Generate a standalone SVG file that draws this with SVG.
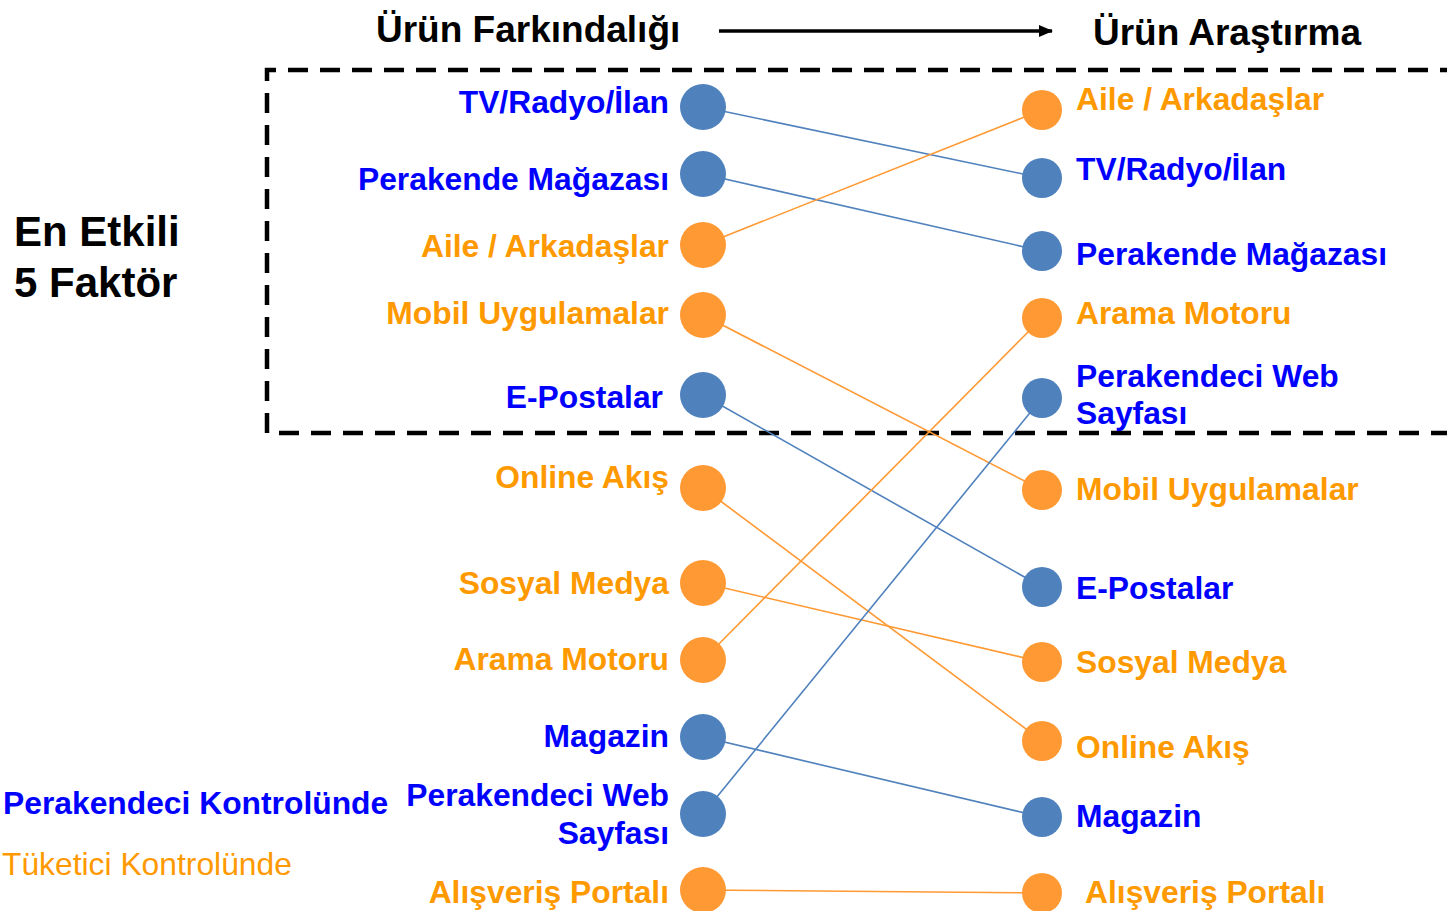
<svg xmlns="http://www.w3.org/2000/svg" width="1447" height="911" viewBox="0 0 1447 911">
<style>
text{font-family:"Liberation Sans",Arial,sans-serif;font-weight:bold}
.b{fill:#0000FF;font-size:31.8px}
.o{fill:#FF9900;font-size:31.8px}
.h{fill:#000;font-size:37px}
.r{text-anchor:end}
.cb{fill:#4F81BD}
.co{fill:#FF9933}
.lb{stroke:#4F81BD;stroke-width:1.6;fill:none}
.lo{stroke:#FF9933;stroke-width:1.6;fill:none}
</style>
<defs>
<marker id="ah" markerWidth="14" markerHeight="12" refX="13" refY="6" orient="auto" markerUnits="userSpaceOnUse"><path d="M0,0 L14,6 L0,12 Z" fill="#000"/></marker>
</defs>
<rect width="1447" height="911" fill="#fff"/>
<g id="header">
<text class="h" x="376" y="42">Ürün Farkındalığı</text>
<line x1="719" y1="31" x2="1052" y2="31" stroke="#000" stroke-width="3.5" marker-end="url(#ah)"/>
<text class="h" x="1093" y="45">Ürün Araştırma</text>
</g>
<g id="top5-box">
<path d="M1460,70 H267 V433 H1460" fill="none" stroke="#000" stroke-width="4.5" stroke-dasharray="20,12"/>
</g>
<g id="side-labels">
<text x="14" y="246" style="font-size:42px;fill:#000">En Etkili</text>
<text x="14" y="297" style="font-size:42px;fill:#000">5 Faktör</text>
<text class="b" x="3" y="814">Perakendeci Kontrolünde</text>
<text x="2" y="875" style="font-size:31.8px;fill:#FF9900;font-weight:normal">Tüketici Kontrolünde</text>
</g>
<g id="connectors">
<line class="lb" x1="703" y1="107" x2="1042" y2="178"/>
<line class="lb" x1="703" y1="174" x2="1042" y2="251"/>
<line class="lo" x1="703" y1="245" x2="1042" y2="110"/>
<line class="lo" x1="703" y1="315" x2="1042" y2="490"/>
<line class="lb" x1="703" y1="395" x2="1042" y2="587"/>
<line class="lo" x1="703" y1="488" x2="1042" y2="741"/>
<line class="lo" x1="703" y1="583" x2="1042" y2="662"/>
<line class="lo" x1="703" y1="660" x2="1042" y2="318"/>
<line class="lb" x1="703" y1="737" x2="1042" y2="817"/>
<line class="lb" x1="703" y1="814" x2="1042" y2="398"/>
<line class="lo" x1="703" y1="890" x2="1042" y2="893"/>
</g>
<g id="left-tv"><circle class="cb" cx="703" cy="107" r="23"/><text class="b r" x="669" y="113">TV/Radyo/İlan</text></g>
<g id="left-perakende"><circle class="cb" cx="703" cy="174" r="23"/><text class="b r" x="669" y="190">Perakende Mağazası</text></g>
<g id="left-aile"><circle class="co" cx="703" cy="245" r="23"/><text class="o r" x="669" y="257">Aile / Arkadaşlar</text></g>
<g id="left-mobil"><circle class="co" cx="703" cy="315" r="23"/><text class="o r" x="669" y="324">Mobil Uygulamalar</text></g>
<g id="left-eposta"><circle class="cb" cx="703" cy="395" r="23"/><text class="b r" x="663" y="408">E-Postalar</text></g>
<g id="left-online"><circle class="co" cx="703" cy="488" r="23"/><text class="o r" x="669" y="488">Online Akış</text></g>
<g id="left-sosyal"><circle class="co" cx="703" cy="583" r="23"/><text class="o r" x="669" y="594">Sosyal Medya</text></g>
<g id="left-arama"><circle class="co" cx="703" cy="660" r="23"/><text class="o r" x="669" y="670">Arama Motoru</text></g>
<g id="left-magazin"><circle class="cb" cx="703" cy="737" r="23"/><text class="b r" x="669" y="747">Magazin</text></g>
<g id="left-web"><circle class="cb" cx="703" cy="814" r="23"/><text class="b r" x="669" y="806">Perakendeci Web</text><text class="b r" x="669" y="844">Sayfası</text></g>
<g id="left-portal"><circle class="co" cx="703" cy="890" r="23"/><text class="o r" x="669" y="903">Alışveriş Portalı</text></g>
<g id="right-aile"><circle class="co" cx="1042" cy="110" r="20"/><text class="o" x="1076" y="110">Aile / Arkadaşlar</text></g>
<g id="right-tv"><circle class="cb" cx="1042" cy="178" r="20"/><text class="b" x="1076" y="180">TV/Radyo/İlan</text></g>
<g id="right-perakende"><circle class="cb" cx="1042" cy="251" r="20"/><text class="b" x="1076" y="265">Perakende Mağazası</text></g>
<g id="right-arama"><circle class="co" cx="1042" cy="318" r="20"/><text class="o" x="1076" y="324">Arama Motoru</text></g>
<g id="right-web"><circle class="cb" cx="1042" cy="398" r="20"/><text class="b" x="1076" y="387">Perakendeci Web</text><text class="b" x="1076" y="424">Sayfası</text></g>
<g id="right-mobil"><circle class="co" cx="1042" cy="490" r="20"/><text class="o" x="1076" y="500">Mobil Uygulamalar</text></g>
<g id="right-eposta"><circle class="cb" cx="1042" cy="587" r="20"/><text class="b" x="1076" y="599">E-Postalar</text></g>
<g id="right-sosyal"><circle class="co" cx="1042" cy="662" r="20"/><text class="o" x="1076" y="673">Sosyal Medya</text></g>
<g id="right-online"><circle class="co" cx="1042" cy="741" r="20"/><text class="o" x="1076" y="758">Online Akış</text></g>
<g id="right-magazin"><circle class="cb" cx="1042" cy="817" r="20"/><text class="b" x="1076" y="827">Magazin</text></g>
<g id="right-portal"><circle class="co" cx="1042" cy="893" r="20"/><text class="o" x="1085" y="903">Alışveriş Portalı</text></g>
</svg>
